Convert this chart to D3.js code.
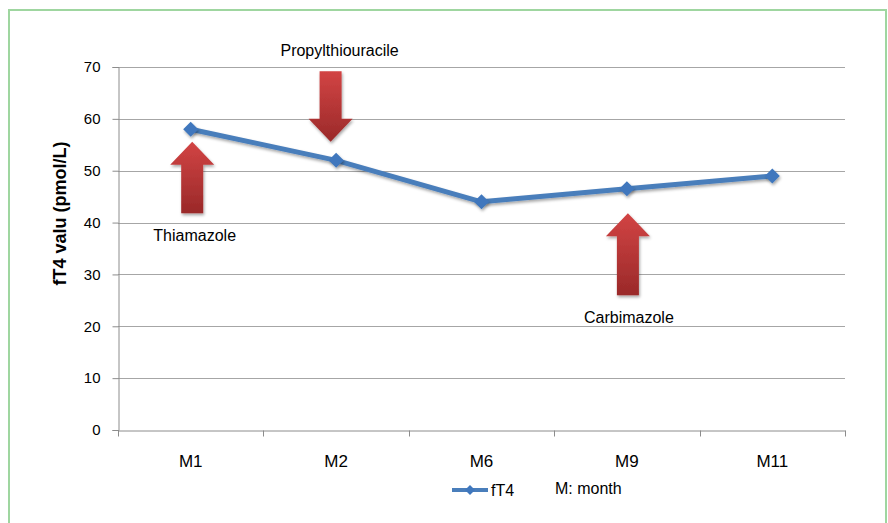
<!DOCTYPE html>
<html>
<head>
<meta charset="utf-8">
<script src="https://cdn.jsdelivr.net/npm/d3@7"></script>
<style>
  body { margin: 0; background: #fff; }
  svg { display: block; font-family: "Liberation Sans", Arial, sans-serif; }
</style>
</head>
<body>
<div id="chart"></div>
<script>
// data
const months = ["M1", "M2", "M6", "M9", "M11"];
const ft4 = [58, 52, 44, 46.5, 49];
const yTicks = [0, 10, 20, 30, 40, 50, 60, 70];

// treatment annotations (value units on the y axis)
const drugNames = ["Thiamazole", "Propylthiouracile", "Carbimazole"];
const drugMonth = ["M1", "M2", "M9"];
const arrowFrom = [41.8, 69.2, 26.0];
const arrowTo = [55.6, 55.6, 41.8];
const labelAt = [36.4, 72.1, 20.6];

const W = 888, H = 523;
const margin = {top: 67, right: 43, bottom: 93, left: 118};
const width = W - margin.left - margin.right;
const height = H - margin.top - margin.bottom;

const svg = d3.select("#chart")
    .append("svg")
    .attr("width", W)
    .attr("height", H);

const defs = svg.append("defs");

const grad = defs.append("linearGradient")
    .attr("id", "arrowGrad")
    .attr("x1", 0).attr("y1", 0).attr("x2", 0).attr("y2", 1);
grad.append("stop").attr("offset", "0%").attr("stop-color", "#d24444");
grad.append("stop").attr("offset", "100%").attr("stop-color", "#9a2929");

const shadow = defs.append("filter")
    .attr("id", "shadow")
    .attr("x", "-30%").attr("y", "-30%")
    .attr("width", "160%").attr("height", "160%");
shadow.append("feDropShadow")
    .attr("dx", 1).attr("dy", 2)
    .attr("stdDeviation", 1.5)
    .attr("flood-color", "#000")
    .attr("flood-opacity", 0.35);

// chart frame
svg.append("rect")
    .attr("x", 9).attr("y", 10)
    .attr("width", 877).attr("height", 540)
    .attr("fill", "none")
    .attr("stroke", "#9fd6a0")
    .attr("stroke-width", 2);

const g = svg.append("g")
    .attr("transform", `translate(${margin.left},${margin.top})`);

// scales
const x = d3.scaleBand()
    .domain(months)
    .range([0, width]);

const y = d3.scaleLinear()
    .domain([0, 70])
    .range([height, 0]);

// gridlines
g.append("g")
    .selectAll("line")
    .data(yTicks.filter(d => d > 0))
    .join("line")
    .attr("x1", 0)
    .attr("x2", width)
    .attr("y1", d => Math.round(y(d)) + 0.5)
    .attr("y2", d => Math.round(y(d)) + 0.5)
    .attr("stroke", "#a6a6a6")
    .attr("stroke-width", 1);

// Y axis
const yAxis = g.append("g")
    .attr("transform", "translate(0.5,0)")
    .call(d3.axisLeft(y).tickValues(yTicks).tickSize(6).tickPadding(12));
yAxis.selectAll("line").attr("stroke", "#8c8c8c");
yAxis.select(".domain").attr("stroke", "#8c8c8c");
yAxis.selectAll("text")
    .style("font-size", "15px")
    .attr("fill", "#000")
    .attr("font-family", "'Liberation Sans', Arial, sans-serif");

// X axis: labels at band centres, ticks on band edges
const xAxis = g.append("g")
    .attr("transform", `translate(0,${Math.round(height) + 0.5})`)
    .call(d3.axisBottom(x).tickSize(0).tickPadding(24));
xAxis.select(".domain").attr("stroke", "#8c8c8c");
xAxis.selectAll("text")
    .style("font-size", "17px")
    .attr("fill", "#000")
    .attr("font-family", "'Liberation Sans', Arial, sans-serif");

const edges = months.map(d => x(d)).concat([x.range()[1]]);
xAxis.selectAll(".edge")
    .data(edges)
    .join("line")
    .attr("class", "edge")
    .attr("x1", d => Math.round(d) + 0.5)
    .attr("x2", d => Math.round(d) + 0.5)
    .attr("y1", 0)
    .attr("y2", 6)
    .attr("stroke", "#8c8c8c");

// Y title
g.append("text")
    .attr("transform", `translate(-52,${y(35) - 35}) rotate(-90)`)
    .attr("text-anchor", "middle")
    .style("font-size", "18px")
    .style("font-weight", "bold")
    .text("fT4 valu (pmol/L)");

// the fT4 series
const cx = d => x(d) + x.bandwidth() / 2;
const line = d3.line()
    .x((d, i) => cx(months[i]))
    .y(d => y(d));

g.append("path")
    .datum(ft4)
    .attr("d", line)
    .attr("fill", "none")
    .attr("stroke", "#4a7ebb")
    .attr("stroke-width", 5)
    .attr("stroke-linejoin", "round")
    .attr("filter", "url(#shadow)");

const diamond = s => `M0,${-s}L${s},0L0,${s}L${-s},0Z`;

g.selectAll(".pt")
    .data(ft4)
    .join("path")
    .attr("class", "pt")
    .attr("d", diamond(7.5))
    .attr("transform", (d, i) => `translate(${cx(months[i])},${y(d)})`)
    .attr("fill", "#3f77bd")
    .attr("filter", "url(#shadow)");

// annotation arrows
const shiftArrow = [1.5, -5.5, 1];
const shiftLabel = [4, 3.5, 2];
const headW = 22, shaftW = 11, headL = 23;

function arrowPath(ax, yFrom, yTo) {
    const dir = yTo < yFrom ? 1 : -1;   // 1 = pointing up
    const base = yTo + dir * headL;
    return `M${ax - shaftW},${yFrom}` +
        `L${ax - shaftW},${base}` +
        `L${ax - headW},${base}` +
        `L${ax},${yTo}` +
        `L${ax + headW},${base}` +
        `L${ax + shaftW},${base}` +
        `L${ax + shaftW},${yFrom}Z`;
}

g.selectAll(".arrow")
    .data(drugNames)
    .join("path")
    .attr("class", "arrow")
    .attr("d", (d, i) => arrowPath(cx(drugMonth[i]) + shiftArrow[i], y(arrowFrom[i]), y(arrowTo[i])))
    .attr("fill", "url(#arrowGrad)")
    .attr("filter", "url(#shadow)");

g.selectAll(".drug")
    .data(drugNames)
    .join("text")
    .attr("class", "drug")
    .attr("x", (d, i) => cx(drugMonth[i]) + shiftLabel[i])
    .attr("y", (d, i) => y(labelAt[i]))
    .attr("text-anchor", "middle")
    .style("font-size", "16px")
    .text(d => d);

// legend
const leg = svg.append("g")
    .attr("transform", "translate(452,490)");
leg.append("line")
    .attr("x1", 0).attr("x2", 36)
    .attr("y1", 0).attr("y2", 0)
    .attr("stroke", "#4a7ebb")
    .attr("stroke-width", 4);
leg.append("path")
    .attr("d", diamond(5))
    .attr("transform", "translate(18,0)")
    .attr("fill", "#3f77bd");
leg.append("text")
    .attr("x", 39).attr("y", 6)
    .style("font-size", "16px")
    .text("fT4");
leg.append("text")
    .attr("x", 103).attr("y", 4)
    .style("font-size", "16px")
    .text("M: month");
</script>
</body>
</html>
